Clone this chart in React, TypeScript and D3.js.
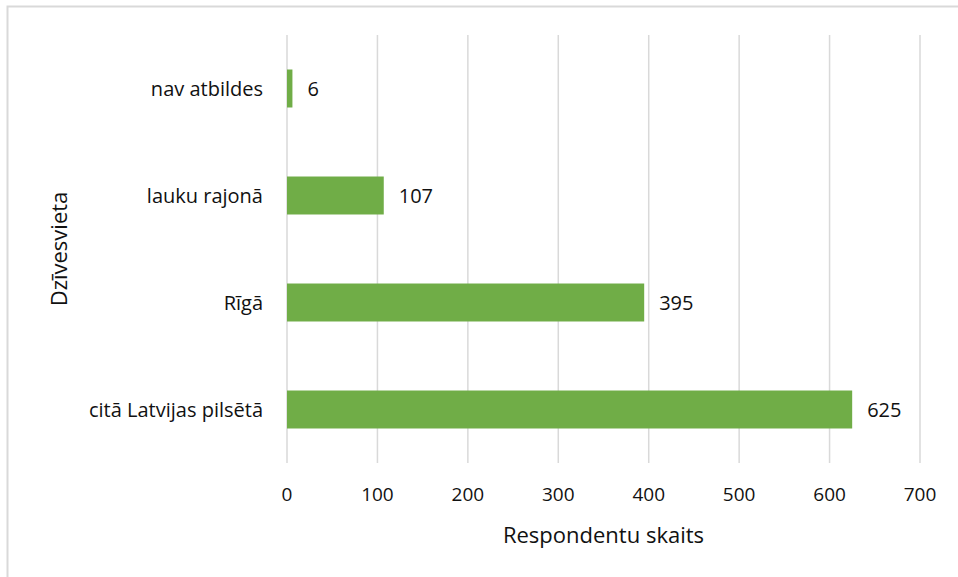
import React from "react";
import * as d3 from "d3";

const categories = ["nav atbildes", "lauku rajonā", "Rīgā", "citā Latvijas pilsētā"];
const values = [6, 107, 395, 625];
const xTicks = [0, 100, 200, 300, 400, 500, 600, 700];
const xTitle = "Respondentu skaits";
const yTitle = "Dzīvesvieta";

const W = 958;
const H = 577;
const plot = { left: 287, right: 920, top: 35, bottom: 463 };
const FONT = "'Open Sans', sans-serif";
const BAR = "#70ad47";
const GRID = "#d9d9d9";
const INK = "#111";

export default function App() {
  const x = d3.scaleLinear().domain([0, 700]).range([plot.left, plot.right]);
  const y = d3
    .scaleBand<string>()
    .domain(categories)
    .range([plot.top, plot.bottom])
    .paddingInner(0.645)
    .paddingOuter(0.3225);

  return (
    <svg
      width={W}
      height={H}
      style={{ position: "absolute", left: 0, top: 0, background: "#fff" }}
      fontFamily={FONT}
    >
      <rect x={7.5} y={6.5} width={W + 20} height={H + 20} fill="#fff" stroke={GRID} strokeWidth={2} />
      {xTicks.map((t) => (
        <line
          key={"g" + t}
          x1={x(t)}
          x2={x(t)}
          y1={plot.top}
          y2={plot.bottom}
          stroke={GRID}
          strokeWidth={1.5}
        />
      ))}
      {categories.map((c, i) => {
        const yy = y(c)!;
        const bw = y.bandwidth();
        return (
          <g key={c}>
            <rect x={x(0)} y={yy} width={x(values[i]) - x(0)} height={bw} fill={BAR} />
            <text x={x(values[i]) + 15} y={yy + bw / 2} dy="0.35em" fontSize={20} fill={INK}>
              {values[i]}
            </text>
            <text x={263} y={yy + bw / 2} dy="0.35em" fontSize={20} textAnchor="end" fill={INK}>
              {c}
            </text>
          </g>
        );
      })}
      {xTicks.map((t) => (
        <text key={"t" + t} x={x(t)} y={494} dy="0.35em" fontSize={19} textAnchor="middle" fill={INK}>
          {t}
        </text>
      ))}
      <text x={(plot.left + plot.right) / 2} y={535} dy="0.35em" fontSize={22} textAnchor="middle" fill={INK}>
        {xTitle}
      </text>
      <text
        transform={`translate(59, ${(plot.top + plot.bottom) / 2}) rotate(-90)`}
        dy="0.35em"
        fontSize={22}
        textAnchor="middle"
        fill={INK}
      >
        {yTitle}
      </text>
    </svg>
  );
}
